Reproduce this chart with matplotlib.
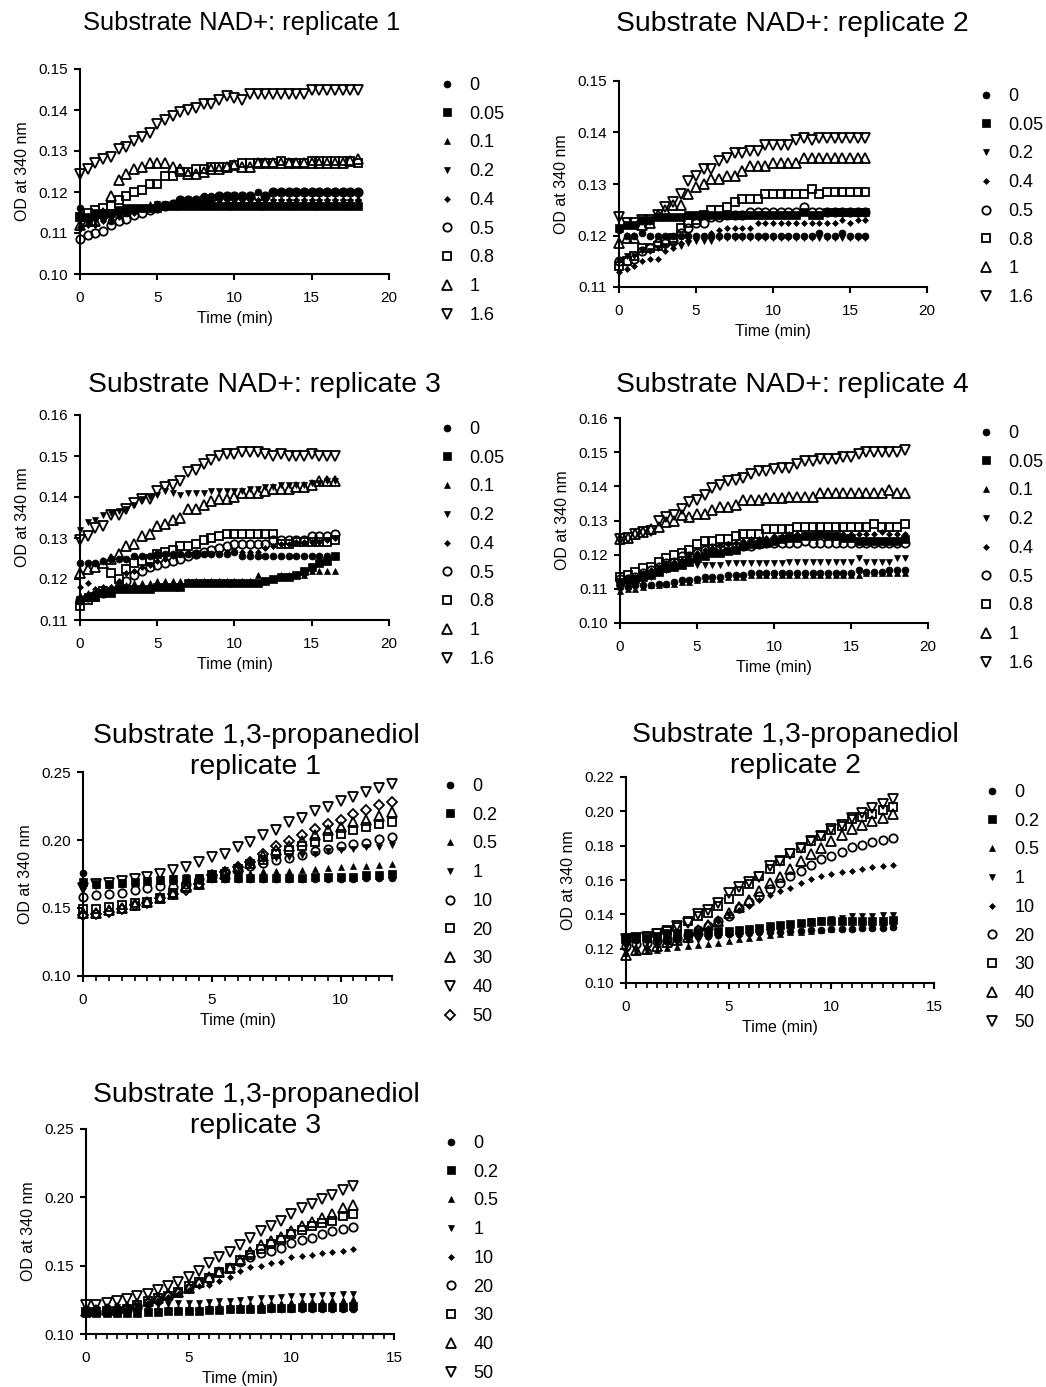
import numpy as np
import matplotlib
matplotlib.use("Agg")
import matplotlib.pyplot as plt
from matplotlib.ticker import FormatStrFormatter, MultipleLocator

plt.rcParams["font.family"] = ["Liberation Sans", "DejaVu Sans"]

# OD at 340 nm in thousandths (mOD), one reading every 0.5 min starting at t = 0

nad_conc = ["0", "0.05", "0.1", "0.2", "0.4", "0.5", "0.8", "1", "1.6"]
nad2_conc = ["0", "0.05", "0.2", "0.4", "0.5", "0.8", "1", "1.6"]
pdo_conc = ["0", "0.2", "0.5", "1", "10", "20", "30", "40", "50"]

# NAD+ replicate 1 (0 - 18 min)
n1_c0 = [116, 114, 114, 114, 113, 115, 115, 116, 116, 116, 117, 117, 117, 118, 118, 118, 119, 119, 119, 119,
         119, 119, 119, 120, 119, 120, 120, 120, 120, 120, 120, 120, 120, 120, 120, 120, 120]
n1_c005 = [114, 114, 115, 115, 115, 115.5, 116, 116, 116, 116, 116, 116.5, 116.5, 116.5, 116.5, 116.5, 116.5, 116.5, 116.5, 116.5,
           116.5, 116.5, 116.5, 116.5, 116.5, 116.5, 116.5, 116.5, 116.5, 116.5, 116.5, 116.5, 116.5, 116.5, 116.5, 116.5, 116.5]
n1_c01 = [112, 113, 114, 114, 115, 115, 116, 116, 116, 117, 117, 117, 117, 118, 118, 118, 118, 118, 118, 118,
          118, 118, 118, 118, 118, 118, 118, 118, 118, 118, 118, 118, 118, 118, 118, 118, 118.5]
n1_c02 = [113, 113, 113, 114, 115, 115, 115, 116, 116, 116, 117, 117, 117, 117, 117, 117, 117.5, 117.5, 117.5, 117.5,
          117.5, 117.5, 117.5, 117.5, 117.5, 117.5, 117.5, 117.5, 117.5, 117.5, 117.5, 117.5, 117.5, 117.5, 117.5, 117.5, 117.5]
n1_c04 = [111, 112, 112, 113, 114, 114, 115, 115, 116, 116, 116, 117, 117, 117, 117.5, 117.5, 118, 118, 118, 118,
          118, 118, 118, 118, 118, 118, 118, 118, 118, 118, 118, 118, 118, 118, 118, 118, 118]
n1_c05 = [108.5, 109.5, 110, 110.5, 112, 113, 113.5, 114.5, 115, 115.5, 116, 116.5, 117, 118, 118, 118, 118.5, 118.5, 119, 119,
          119, 119, 119, 119, 119, 120, 120, 120, 120, 120, 120, 120, 120, 120, 120, 120, 120]
n1_c08 = [114, 115, 115.5, 116, 116.5, 118, 119, 120, 120.5, 122, 122, 124, 124, 125, 125, 125.5, 125.5, 126, 126, 126,
          126.5, 127, 127, 127, 127, 127, 127.5, 127, 127, 127, 127.5, 127.5, 127.5, 127.5, 127.5, 127.5, 127]
n1_c1 = [112, 113, 113, 115, 119, 123, 124.5, 125.5, 126, 127, 127, 127, 126, 125.5, 124.5, 124.5, 125, 125.5, 125.5, 126,
         126.5, 126, 126, 127, 127, 127, 127, 127, 127, 127, 127, 127, 127, 127, 127, 127.5, 128]
n1_c16 = [124.5, 125.5, 127, 128, 128.5, 130.5, 131, 132.5, 133.5, 134.5, 136.5, 137.5, 138.5, 139.5, 140, 140.5, 141.5, 141.5, 142.5, 143.5,
          143, 142.5, 144, 144, 144, 144, 144, 144, 144, 144, 145, 145, 145, 145, 145, 145, 145]

# NAD+ replicate 2 (0 - 16 min), no 0.1 series
n2_c0 = [121, 120, 120, 120.5, 120, 120, 120, 120, 120, 120, 120, 120, 120, 120, 120, 120, 120, 120, 120, 120,
         120, 120, 120, 120, 120, 120, 120.5, 120, 120, 120.5, 120, 120, 120]
n2_c005 = [121.5, 122, 122, 123, 123, 123.5, 123.5, 123.5, 123.5, 124, 124, 124, 124, 124, 124, 124, 124, 124, 124, 124,
           124, 124, 124, 124, 124.5, 124, 124, 124.5, 124.5, 124.5, 124.5, 124.5, 124.5]
n2_c02 = [115, 116, 116, 117, 117, 117.5, 118, 118, 118, 118.5, 119, 119, 119, 119.5, 119.5, 119.5, 119.5, 119.5, 119.5, 119.5,
          119.5, 119.5, 119.5, 119.5, 119.5, 119.5, 119.5, 119.5, 119.5, 119.5, 119.5, 119.5, 119.5]
n2_c04 = [113, 113.5, 114, 115, 115.5, 115.5, 117, 117.5, 118.5, 119, 119.5, 120, 120.5, 121, 121.5, 121.5, 121.5, 121.5, 122.5, 122.5,
          122.5, 122.5, 122.5, 122.5, 122.5, 122.5, 122.5, 122.5, 122.5, 123, 122.5, 123, 123]
n2_c05 = [115, 115, 115.5, 117, 117.5, 118.5, 118.5, 119, 120.5, 121.5, 122.5, 122.5, 123.5, 123.5, 124, 124, 124, 124.5, 124.5, 124.5,
          124.5, 124.5, 124.5, 124.5, 125.5, 124.5, 124.5, 124.5, 124.5, 124.5, 124.5, 124.5, 124.5]
n2_c08 = [114, 115, 116, 117.5, 117.5, 118, 119, 119.5, 121.5, 122.5, 123, 124, 125, 125, 125.5, 126.5, 127, 127, 127, 128,
          128, 128, 128, 128, 128, 129, 128, 128.5, 128.5, 128.5, 128.5, 128.5, 128.5]
n2_c1 = [118.5, 119.5, 119.5, 122, 122.5, 124, 125, 126, 126, 128, 129.5, 130, 131, 131, 131.5, 131.5, 132.5, 133.5, 133.5, 133.5,
         134, 134, 134, 134, 135, 135, 135, 135, 135, 135, 135, 135, 135]
n2_c16 = [123.5, 122.5, 122.5, 123, 123, 124, 125.5, 126.5, 128, 130.5, 131.5, 133, 133, 134.5, 135, 136, 136, 136.5, 136.5, 137.5,
          137.5, 137.5, 137.5, 138.5, 139, 138.5, 139, 139, 139, 139, 139, 139, 139]

# NAD+ replicate 3 (0 - 16.5 min)
n3_c0 = [124, 124, 124, 124.5, 125, 125, 125, 125.5, 125.5, 125.5, 126, 126, 126, 126, 126, 126, 126, 126, 126, 126,
         126.5, 125.5, 125.5, 125.5, 125.5, 125.5, 125.5, 125.5, 125.5, 125.5, 125.5, 125.5, 125.5, 125.5]
n3_c005 = [115, 115.5, 115.5, 116.5, 116.5, 117.5, 117.5, 117.5, 117.5, 117.5, 118, 118, 118, 118, 119, 119, 119, 119, 119, 119,
           119, 119, 119, 119, 119.5, 120, 120.5, 120.5, 121, 122, 123, 124, 124.5, 125.5]
n3_c01 = [116, 116.5, 117, 117.5, 118, 118.5, 118.5, 119, 119, 119, 119.5, 119.5, 119.5, 119.5, 119.5, 119.5, 119.5, 119.5, 119.5, 119.5,
          119.5, 119.5, 119.5, 121, 119.5, 120, 121, 121, 121, 121, 122, 122, 122, 122]
n3_c02 = [132, 134, 134.5, 135.5, 136, 136.5, 137, 138, 139.5, 140, 140.5, 141.5, 141, 140.5, 141, 141, 141, 141.5, 141.5, 141.5,
          141.5, 141.5, 142, 142, 142.5, 142.5, 143, 143, 143, 143, 143.5, 143.5, 144, 144]
n3_c04 = [118, 119, 117.5, 118, 118, 119.5, 121.5, 122, 123, 123.5, 124.5, 125, 125.5, 126, 126, 126, 126, 126, 126, 126.5,
          126.5, 126.5, 126.5, 126.5, 127.5, 128, 128.5, 128.5, 129, 129, 129, 129, 129.5, 130]
n3_c05 = [115, 115.5, 116, 116.5, 117, 118, 119.5, 121, 122, 123, 123.5, 124, 124.5, 125, 125.5, 126, 126.5, 127, 127.5, 128,
          128.5, 128.5, 128.5, 128.5, 128.5, 129.5, 129.5, 129.5, 129.5, 129.5, 130.5, 130.5, 130.5, 131]
n3_c08 = [113.5, 115, 115.5, 117, 121.5, 120, 122.5, 124, 124.5, 125, 126, 126.5, 127, 128, 128, 128.5, 129.5, 130, 130.5, 131,
          131, 131, 131, 131, 131, 131, 128.5, 128.5, 129, 129, 129, 129, 129, 129.5]
n3_c1 = [121.5, 122.5, 123, 124, 125, 126, 128, 128.5, 130.5, 131, 133, 133.5, 134.5, 135, 137, 137, 138, 139, 139.5, 139.5,
         140, 141, 141, 141, 141.5, 142, 142, 142, 142.5, 142.5, 143, 144, 144, 144]
n3_c16 = [129.5, 130.5, 132.5, 133, 135.5, 135.5, 137, 138.5, 139.5, 139.5, 141.5, 142.5, 143, 144, 146, 146.5, 148, 149, 150, 150.5,
          150.5, 151, 151, 151, 150.5, 150, 150.5, 150, 150, 150, 150.5, 150, 150, 150]

# NAD+ replicate 4 (0 - 18.5 min)
n4_c0 = [110.5, 110.5, 111, 111, 111, 111.5, 111.5, 112, 112.5, 112.5, 113, 113.5, 113.5, 113.5, 114, 114, 114, 114.5, 114.5, 114.5,
         114.5, 114.5, 114.5, 114.5, 114.5, 114.5, 114.5, 114.5, 114.5, 114.5, 114.5, 115.5, 115, 115, 115, 115.5, 115.5, 115.5]
n4_c005 = [112, 112.5, 113, 113.5, 114, 115, 116, 116.5, 117, 118, 119, 119.5, 120.5, 120.5, 121, 121.5, 122.5, 123, 123, 123.5,
           124, 124.5, 125, 125, 125.5, 125.5, 126, 125.5, 125.5, 125, 125, 124, 124, 124, 124, 124, 124, 124.5]
n4_c01 = [109.5, 110, 110, 110.5, 111, 111, 111.5, 111.5, 112, 112, 112.5, 113, 113, 113, 113.5, 113.5, 113.5, 114, 114, 114,
          114, 114, 114, 114, 114, 114, 114, 114, 114, 114, 114, 114, 114.5, 114.5, 114.5, 114.5, 114.5, 114.5]
n4_c02 = [111, 111.5, 112, 113, 113.5, 114.5, 115.5, 116, 117, 117.5, 117, 117, 117, 117, 117.5, 117.5, 117.5, 117.5, 117.5, 117.5,
          117.5, 117.5, 118, 118, 118, 118, 118, 118, 118, 118, 118, 119, 118, 118, 118, 118, 119, 119]
n4_c04 = [112, 113, 113.5, 114.5, 115.5, 116.5, 117.5, 118, 118.5, 119.5, 120.5, 121.5, 122, 122.5, 123, 123.5, 124, 124.5, 124.5, 125,
          125.5, 125.5, 126, 126, 126, 126, 126, 126, 126, 126, 126, 126, 126, 126, 126.5, 126, 126, 126]
n4_c05 = [113, 113, 113.5, 114.5, 115.5, 116.5, 117.5, 118, 119.5, 119.5, 120.5, 121.5, 122, 122, 122.5, 122.5, 122.5, 122.5, 123, 123.5,
          123.5, 123.5, 123.5, 123.5, 124, 123.5, 123.5, 123.5, 123.5, 123.5, 123.5, 123.5, 123.5, 123.5, 123.5, 123.5, 123.5, 123.5]
n4_c08 = [113.5, 114, 115, 116, 116.5, 118, 119, 120, 120.5, 121.5, 123, 124, 124, 124.5, 124.5, 125.5, 126, 126, 126, 127.5,
          127.5, 127.5, 127.5, 128, 128, 128, 128, 128, 128, 128, 128, 128, 128, 129, 128, 128, 128, 129]
n4_c1 = [124.5, 125, 126, 126.5, 127.5, 128, 129.5, 130, 131.5, 131, 132, 132, 133, 134, 134, 134.5, 136, 136, 136, 136.5,
         136.5, 136.5, 137, 137, 137, 137, 138, 138, 138, 138, 138, 138, 138, 138, 138, 139, 138, 138]
n4_c16 = [124.5, 125, 126, 126.5, 127, 130, 131, 131.5, 133.5, 135.5, 136, 137.5, 139.5, 140.5, 141.5, 142, 142.5, 143.5, 144.5, 144.5,
          145, 145.5, 145.5, 146.5, 147.5, 147.5, 148, 148, 148, 148.5, 148.5, 149.5, 150, 150, 150, 150, 150, 150.5]

# 1,3-propanediol replicate 1 (0 - 12 min)
p1_c0 = [176, 167, 167, 168, 168.5, 169.5, 170, 170, 170.5, 170.5, 171, 171, 171, 171, 171, 171, 171, 171, 171.5, 171.5,
         171.5, 171.5, 172, 172, 172]
p1_c02 = [169, 168, 168, 168.5, 169, 170, 170.5, 171, 171.5, 172, 172, 172, 172, 172, 172, 172, 172, 172, 172.5, 172.5,
          173, 173, 174, 174.5, 175]
p1_c05 = [167, 168, 168.5, 169, 169, 169.5, 169.5, 170, 170, 171.5, 174, 174.5, 175.5, 176, 177, 177, 177, 178, 179, 179.5,
          180.5, 181, 181, 181.5, 182.5]
p1_c1 = [163, 167, 168, 169, 169, 170.5, 171, 172, 172.5, 173, 175.5, 178, 180, 182.5, 185, 186.5, 187.5, 189, 190, 192,
         192.5, 193.5, 194.5, 195, 196]
p1_c10 = [158, 159.5, 160, 161, 163, 164.5, 166, 165.5, 168, 171, 173, 175.5, 178, 181, 183, 185, 187, 189, 192, 193.5,
          195.5, 197, 198, 201, 202.5]
p1_c20 = [149, 149.5, 151, 152, 154, 154.5, 157.5, 161, 165.5, 168, 174, 175, 179, 182.5, 185, 190, 192.5, 195.5, 198.5, 202,
          204.5, 207, 209.5, 211.5, 213.5]
p1_c30 = [146, 146.5, 148.5, 150, 152.5, 154.5, 157, 160.5, 165.5, 168, 173, 175, 180, 183, 188, 192.5, 195.5, 199.5, 203.5, 207,
          209.5, 213.5, 215, 218, 220.5]
p1_c40 = [165, 167.5, 168.5, 170, 171.5, 172.5, 175, 178, 180, 184, 187.5, 190, 195, 198.5, 203.5, 207.5, 213, 216.5, 221.5, 224,
          228.5, 231.5, 235, 238, 241.5]
p1_c50 = [145, 145.5, 147, 149.5, 152, 154, 157, 160, 163, 168, 174, 176.5, 180, 184, 190, 195.5, 199.5, 204, 208, 211.5,
          215, 219, 222, 225.5, 228]

# 1,3-propanediol replicate 2 (0 - 13 min)
p2_c0 = [124.5, 125, 125.5, 125.5, 126, 126.5, 127, 127.5, 127.5, 128, 128.5, 128.5, 129, 129.5, 130, 130, 130.5, 130.5, 131, 131,
         131.5, 131.5, 131.5, 132, 132, 132, 132.5]
p2_c02 = [126, 126, 126.5, 127.5, 129, 129, 129, 130, 130, 130.5, 130.5, 131, 131.5, 132, 133, 133.5, 134.5, 135, 135.5, 136,
          136, 136, 136, 136, 136, 136, 136.5]
p2_c05 = [117.5, 118, 118.5, 119.5, 120.5, 121, 121.5, 122, 123, 123.5, 124.5, 125.5, 126, 127, 128, 128.5, 129.5, 130, 130.5, 131,
          131.5, 132, 132, 132.5, 132.5, 133, 133]
p2_c1 = [121, 124, 123.5, 123, 123, 123.5, 124.5, 125, 126, 127.5, 128, 130, 130, 131, 132, 133, 134.5, 135, 136, 136.5,
         137, 138, 139, 139, 139, 139.5, 139.5]
p2_c10 = [119.5, 119.5, 120, 121.5, 123.5, 125, 127, 129, 132, 136, 140, 142.5, 145, 148.5, 151, 153.5, 155.5, 158.5, 160.5, 162.5,
          163.5, 164.5, 165.5, 166.5, 167.5, 168, 168.5]
p2_c20 = [121.5, 122.5, 123.5, 124.5, 125, 126, 128, 131, 133, 136, 139, 143.5, 147, 150.5, 155, 158.5, 162.5, 165.5, 168.5, 172,
          174, 176.5, 179, 180.5, 182, 183.5, 184.5]
p2_c30 = [125.5, 126, 127, 129, 131, 132.5, 136, 139, 141, 145, 149, 153.5, 157.5, 162.5, 166.5, 171, 175.5, 178.5, 182.5, 185.5,
          189, 191.5, 195.5, 196.5, 198.5, 201, 202.5]
p2_c40 = [116.5, 119.5, 120, 121.5, 124, 125, 127, 131, 133.5, 136, 141, 144.5, 148.5, 153.5, 158.5, 162, 166.5, 171, 175, 178.5,
          182.5, 186.5, 189.5, 192, 194.5, 196, 198.5]
p2_c50 = [125.5, 126, 127, 128.5, 129.5, 133, 135, 140, 142.5, 146.5, 152.5, 156, 159, 162, 168, 171, 175, 178.5, 182.5, 185.5,
          189.5, 192, 196, 199, 202, 204, 207]

# 1,3-propanediol replicate 3 (0 - 13 min)
p3_c0 = [117, 117, 117, 117, 117, 117, 117, 117, 117.5, 117.5, 117.5, 117.5, 118, 118, 118, 118, 118, 118, 118, 118.5,
         118, 118, 118.5, 118, 118.5, 118.5, 118.5]
p3_c02 = [115, 115, 115, 115, 115.5, 115.5, 116, 116, 116.5, 116.5, 117, 117, 117.5, 117.5, 118, 118, 118.5, 118.5, 119, 119,
          119, 119.5, 119.5, 119.5, 120, 120, 120.5]
p3_c05 = [117, 117, 117, 117.5, 117.5, 118, 118, 118.5, 118.5, 119, 119.5, 120, 120.5, 121, 121, 121.5, 122, 122.5, 123, 123,
          123.5, 124, 124, 124.5, 125, 125, 125.5]
p3_c1 = [118, 118.5, 119, 119.5, 120, 120.5, 121, 121.5, 122, 122.5, 123, 123, 123.5, 124, 124.5, 125, 125.5, 126, 126.5, 127,
         127.5, 128, 128, 128.5, 128.5, 129, 129.5]
p3_c10 = [117.5, 117.5, 117.5, 118, 118, 120, 123, 125, 127, 129, 132, 135, 136, 139, 142, 146, 149, 150, 152, 153,
          156, 157, 157.5, 159, 160, 161, 162]
p3_c20 = [116.5, 116.5, 117, 117.5, 118, 120, 123, 125, 128, 131, 134, 137, 140, 145, 148, 152.5, 156, 159, 161, 163,
          166.5, 169, 170, 173, 175.5, 177, 178]
p3_c30 = [116, 116, 116.5, 117, 118, 121, 124, 126, 128, 131, 135, 138, 141, 145, 148, 154, 158, 162, 166, 169,
          173, 176, 179, 181, 183, 186, 188]
p3_c40 = [117, 117.5, 118, 119, 120, 122, 124, 126, 129, 131, 134, 138, 142, 145, 148, 154, 160, 165, 168, 171,
          175, 179, 182, 185, 188, 192, 194.5]
p3_c50 = [121.5, 121.5, 122.5, 124, 125.5, 127.5, 129.5, 132, 135, 138, 142, 146, 152, 156, 160, 165, 170, 175, 179, 183,
          188, 192, 195, 199, 202, 205, 208]

W, H = 1046, 1387
fig = plt.figure(figsize=(W / 100, H / 100), dpi=100)

STYLE = {
    "dot": dict(marker="o", ms=5.0, mfc="black", mec="black", mew=0.5),
    "sq": dict(marker="s", ms=5.2, mfc="black", mec="black", mew=0.5),
    "tri": dict(marker="^", ms=4.4, mfc="black", mec="black", mew=0.5),
    "trid": dict(marker="v", ms=4.4, mfc="black", mec="black", mew=0.5),
    "dia": dict(marker="D", ms=3.0, mfc="black", mec="black", mew=0.5),
    "o_open": dict(marker="o", ms=6.0, mfc="none", mec="black", mew=1.3),
    "s_open": dict(marker="s", ms=6.0, mfc="none", mec="black", mew=1.3),
    "t_open": dict(marker="^", ms=7.2, mfc="none", mec="black", mew=1.3),
    "v_open": dict(marker="v", ms=7.2, mfc="none", mec="black", mew=1.3),
    "d_open": dict(marker="D", ms=5.2, mfc="none", mec="black", mew=1.3),
}
nad_styles = ["dot", "sq", "tri", "trid", "dia", "o_open", "s_open", "t_open", "v_open"]
nad2_styles = ["dot", "sq", "trid", "dia", "o_open", "s_open", "t_open", "v_open"]
pdo1_styles = ["dot", "sq", "tri", "trid", "o_open", "s_open", "t_open", "v_open", "d_open"]


def px_rect(x0, x1, ytop, ybot):
    return [x0 / W, 1 - ybot / H, (x1 - x0) / W, (ybot - ytop) / H]


def draw_panel(box, labels, styles, series, ylim, ystep, xmax, minor, legend_xy):
    ax = fig.add_axes(px_rect(*box))
    for lab, st, vals in zip(labels, styles, series):
        od = np.array(vals) / 1000
        t = np.arange(len(od)) * 0.5
        ax.plot(t, od, linestyle="none", clip_on=False, label=lab, **STYLE[st])

    ax.set_xlim(0, xmax)
    ax.set_ylim(*ylim)
    ax.xaxis.set_major_locator(MultipleLocator(5))
    ax.yaxis.set_major_locator(MultipleLocator(ystep))
    ax.yaxis.set_major_formatter(FormatStrFormatter("%.2f"))
    if minor:
        ax.xaxis.set_minor_locator(MultipleLocator(0.5))
    for side in ["top", "right"]:
        ax.spines[side].set_visible(False)
    for side in ["left", "bottom"]:
        ax.spines[side].set_linewidth(1.5)
    ax.tick_params(which="major", direction="out", length=4.5, width=1.5, labelsize=11)
    ax.tick_params(axis="y", pad=4)
    ax.tick_params(axis="x", pad=7.5)
    ax.tick_params(which="minor", direction="out", length=3.8, width=1.2)
    ax.set_xlabel("Time (min)", fontsize=11.5, labelpad=4.5)
    ax.set_ylabel("OD at 340 nm", fontsize=11.5, labelpad=6)

    ax.legend(loc="upper left", bbox_to_anchor=(legend_xy[0] / W, 1 - legend_xy[1] / H),
              bbox_transform=fig.transFigure, frameon=False, fontsize=13,
              handlelength=1.0, handletextpad=0.75, labelspacing=0.65,
              borderpad=0, borderaxespad=0)
    return ax


def title(text, x, y, size=20.4):
    fig.text(x / W, 1 - y / H, text, ha="center", va="baseline", fontsize=size)


# NAD+ panels
draw_panel((80, 389, 69, 274), nad_conc, nad_styles,
           [n1_c0, n1_c005, n1_c01, n1_c02, n1_c04, n1_c05, n1_c08, n1_c1, n1_c16],
           (0.10, 0.15), 0.01, 20, False, (438, 77))
title("Substrate NAD+: replicate 1", 242, 30, 18.4)

draw_panel((619, 927, 81, 287), nad2_conc, nad2_styles,
           [n2_c0, n2_c005, n2_c02, n2_c04, n2_c05, n2_c08, n2_c1, n2_c16],
           (0.11, 0.15), 0.01, 20, False, (977, 88))
title("Substrate NAD+: replicate 2", 792, 31)

draw_panel((80, 389, 415, 620), nad_conc, nad_styles,
           [n3_c0, n3_c005, n3_c01, n3_c02, n3_c04, n3_c05, n3_c08, n3_c1, n3_c16],
           (0.11, 0.16), 0.01, 20, False, (438, 421))
title("Substrate NAD+: replicate 3", 264, 392)

draw_panel((620, 928, 418, 623), nad_conc, nad_styles,
           [n4_c0, n4_c005, n4_c01, n4_c02, n4_c04, n4_c05, n4_c08, n4_c1, n4_c16],
           (0.10, 0.16), 0.01, 20, False, (977, 425))
title("Substrate NAD+: replicate 4", 792, 392)

# 1,3-propanediol panels
draw_panel((83, 392, 772, 976), pdo_conc, pdo1_styles,
           [p1_c0, p1_c02, p1_c05, p1_c1, p1_c10, p1_c20, p1_c30, p1_c40, p1_c50],
           (0.10, 0.25), 0.05, 12, True, (441, 778))
title("Substrate 1,3-propanediol", 256, 743)
title("replicate 1", 256, 774)

draw_panel((626, 934, 777, 983), pdo_conc, nad_styles,
           [p2_c0, p2_c02, p2_c05, p2_c1, p2_c10, p2_c20, p2_c30, p2_c40, p2_c50],
           (0.10, 0.22), 0.02, 15, True, (983, 784))
title("Substrate 1,3-propanediol", 795, 742)
title("replicate 2", 795, 773)

draw_panel((86, 394, 1129, 1334), pdo_conc, nad_styles,
           [p3_c0, p3_c02, p3_c05, p3_c1, p3_c10, p3_c20, p3_c30, p3_c40, p3_c50],
           (0.10, 0.25), 0.05, 15, True, (442, 1135))
title("Substrate 1,3-propanediol", 256, 1102)
title("replicate 3", 256, 1133)

fig.savefig("out.png", dpi=100)
